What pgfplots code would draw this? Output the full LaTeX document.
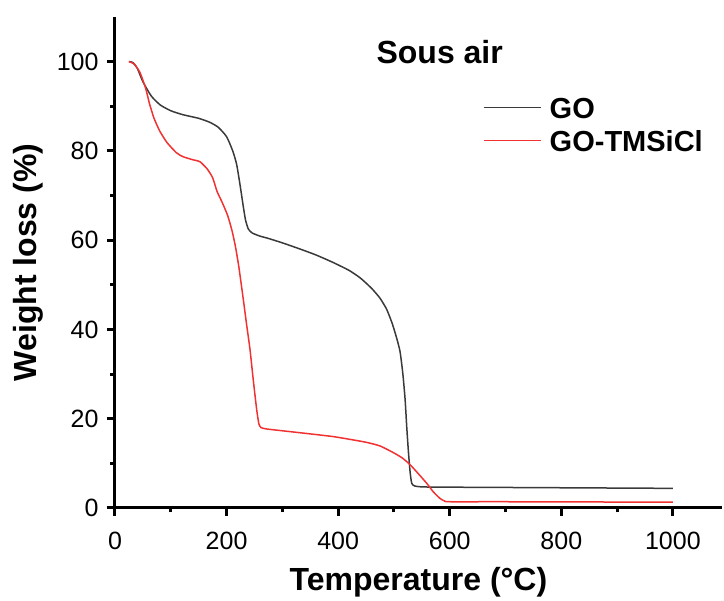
\documentclass[border=0pt]{standalone}
\usepackage{pgfplots}
\pgfplotsset{compat=1.18}
\usepackage{fontspec}
\setmainfont{Liberation Sans}
\definecolor{goblack}{RGB}{58,58,58}
\definecolor{gored}{RGB}{240,50,50}
\begin{document}
\begin{tikzpicture}
\path[use as bounding box] (-115pt,-93pt) rectangle (609pt,508pt);
\begin{axis}[
  scale only axis,
  width=607pt, height=491pt,
  xmin=0, xmax=1088, ymin=0, ymax=110,
  axis x line=bottom, axis y line=left,
  axis line style={-, line width=3pt, black},
  tick align=outside,
  major tick length=8pt, minor tick length=4.5pt,
  every tick/.append style={black, line width=3pt},
  major tick style={black, line width=3pt},
  minor tick style={black, line width=3pt},
  xtick={0,200,400,600,800,1000},
  ytick={0,20,40,60,80,100},
  minor tick num=1,
  /pgf/number format/assume math mode=true,
  /pgf/number format/1000 sep={},
  ticklabel style={font=\fontsize{25}{27}\selectfont},
  xticklabel style={yshift=-13pt},
  yticklabel style={xshift=-5pt},
  xlabel={\bfseries Temperature (°C)},
  ylabel={\bfseries Weight loss (\%)},
  xlabel style={font=\fontsize{32}{34}\selectfont, at={(axis description cs:0.5,-0.151)}, anchor=center},
  ylabel style={font=\fontsize{32}{34}\selectfont, at={(axis description cs:-0.1433,0.5)}, anchor=center},
  legend cell align=left,
  legend style={draw=none, fill=none, at={(axis description cs:0.6063,0.837)}, anchor=north west,
    font=\bfseries\fontsize{29}{30}\selectfont, row sep=12pt, column sep=8pt, inner sep=0pt,
    nodes={inner sep=0pt, text height=21pt, text depth=0pt}},
  legend image code/.code={\draw[#1] (0pt,0pt) -- (57pt,0pt);},
]
\addplot[goblack, line width=1.5pt, smooth, tension=0.35] coordinates {
(25,100) (32,99.8) (40,98.5) (50,95.5) (65,92.3) (81,90.3) (100,89) (122,88.1)
(150,87.3) (170,86.4) (185,85.3) (200,83.2) (211,80) (218,77) (224,72.5)
(230,67.5) (234,64.5) (239,62.5) (246,61.6) (260,60.9) (272,60.5) (300,59.4)
(332,58) (360,56.7) (391,55) (420,53.2) (440,51.5) (460,49.2) (475,47)
(487,44.5) (497,41.3) (505,38) (511,35) (516,30) (520,24.3) (523,18) (526,12.5)
(529,8) (532,5.5) (538,4.9) (560,4.7) (700,4.6) (1000,4.4)
};
\addlegendentry{GO}
\addplot[gored, line width=1.5pt, smooth, tension=0.35] coordinates {
(25,100) (35,99.4) (45,97.5) (55,94) (62,90.5) (70,87.3) (80,84.5) (93,81.9)
(110,79.6) (122,78.7) (140,78) (152,77.6) (165,76) (175,74) (183,70.9)
(192,68.5) (202,65.5) (210,62) (216,58.5) (222,54) (230,46.7) (236,41)
(242,35.5) (248,28.5) (254,22) (258,18.8) (262,18) (272,17.7) (300,17.3)
(350,16.6) (391,16) (420,15.4) (451,14.7) (475,13.9) (499,12.4) (515,11.2)
(529,9.7) (545,7.5) (559,5.5) (570,3.7) (582,2.2) (590,1.6) (600,1.4)
(700,1.4) (1000,1.3)
};
\addlegendentry{GO-TMSiCl}
\node[font=\bfseries\fontsize{32}{34}\selectfont, anchor=center] at (axis cs:582,102.2) {Sous air};
\end{axis}
\end{tikzpicture}
\end{document}
